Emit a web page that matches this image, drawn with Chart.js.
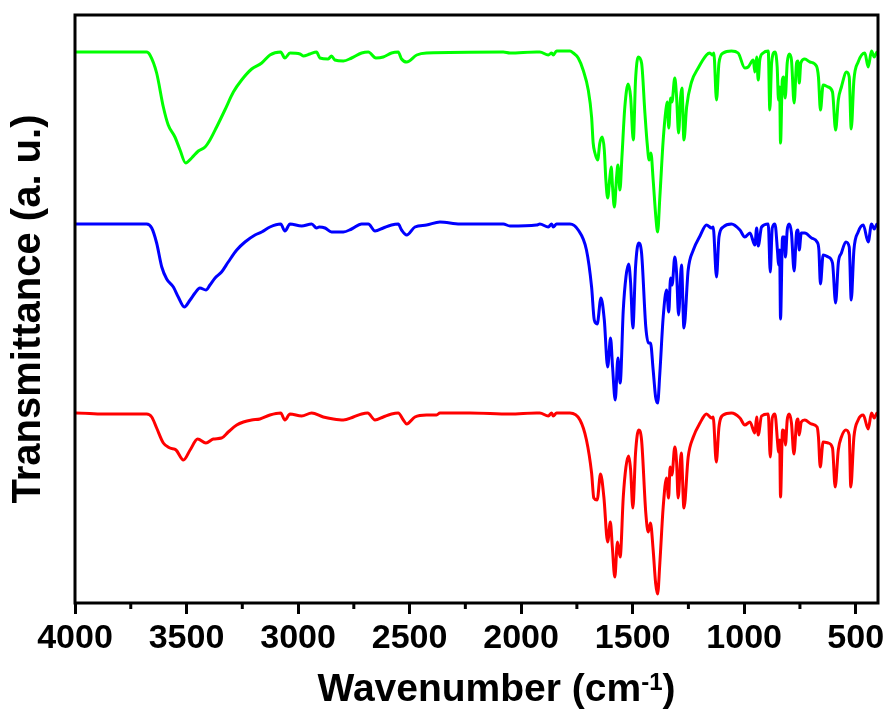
<!DOCTYPE html>
<html lang="en">
<head>
<meta charset="UTF-8">
<title>FTIR spectra</title>
<style>
  html, body { margin: 0; padding: 0; background: #fff; }
  .chart-container { position: relative; width: 890px; height: 711px; }
</style>
</head>
<body>
<div class="chart-container">
  <canvas id="ftir"></canvas>
</div>
<script src="https://cdn.jsdelivr.net/npm/chart.js"></script>
<script>
// [wavenumber (cm-1), transmittance (a.u., spectra stacked with offsets)]
const greenSpectrum = [
  [4000, 551], [3996, 551], [3679, 551], [3664, 548], [3634, 530], [3604, 496], [3582, 478], [3552, 466],
  [3529, 453], [3504, 440], [3477, 445], [3447, 452], [3417, 456], [3395, 463], [3365, 476], [3328, 493],
  [3290, 511], [3253, 523], [3208, 534], [3163, 540], [3126, 548], [3078, 551], [3059, 545], [3036, 550],
  [2991, 549], [2977, 547], [2947, 549], [2917, 551], [2902, 545], [2865, 544], [2850, 547], [2835, 543],
  [2797, 542], [2760, 545], [2715, 550], [2685, 551], [2651, 545], [2618, 546], [2581, 550], [2551, 551],
  [2536, 544], [2513, 541], [2468, 548], [2424, 550], [2080, 551], [2050, 550], [1931, 551], [1916, 551],
  [1878, 548], [1863, 550], [1856, 548], [1841, 552], [1781, 552], [1766, 550], [1744, 545], [1722, 533],
  [1699, 513], [1684, 486], [1677, 460], [1669, 450], [1657, 443], [1647, 460], [1636, 466], [1627, 453],
  [1620, 423], [1612, 405], [1602, 426], [1596, 436], [1590, 416], [1582, 396], [1572, 426], [1566, 438],
  [1557, 413], [1548, 446], [1535, 496], [1520, 519], [1509, 506], [1497, 463], [1487, 523], [1475, 546],
  [1460, 540], [1445, 490], [1435, 460], [1426, 443], [1418, 450], [1408, 423], [1396, 386], [1388, 371],
  [1378, 406], [1363, 463], [1351, 493], [1345, 501], [1338, 475], [1330, 505], [1324, 501], [1311, 525],
  [1303, 506], [1294, 470], [1285, 506], [1279, 515], [1270, 463], [1258, 496], [1236, 521], [1206, 535],
  [1169, 548], [1154, 550], [1142, 548], [1136, 550], [1124, 503], [1113, 540], [1094, 550], [1057, 552],
  [1027, 550], [997, 535], [982, 536], [959, 543], [952, 531], [944, 546], [937, 523], [930, 543],
  [915, 550], [892, 552], [885, 493], [877, 540], [862, 551], [852, 536], [846, 503], [841, 516],
  [837, 460], [829, 523], [823, 526], [816, 505], [807, 540], [798, 549], [788, 543], [776, 500],
  [765, 540], [759, 542], [753, 520], [746, 540], [728, 544], [705, 541], [676, 537], [667, 526],
  [658, 493], [646, 518], [623, 516], [604, 511], [590, 473], [578, 503], [564, 516], [541, 531],
  [529, 526], [520, 474], [508, 523], [489, 541], [459, 550], [444, 536], [429, 552], [417, 546],
  [404, 551], [400, 551]
];

const blueSpectrum = [
  [4000, 379], [3996, 379], [3679, 379], [3656, 375], [3634, 360], [3611, 336], [3589, 324], [3559, 316],
  [3537, 306], [3510, 296], [3484, 303], [3462, 310], [3440, 315], [3413, 313], [3395, 318], [3372, 325],
  [3343, 331], [3313, 341], [3275, 353], [3238, 361], [3193, 368], [3163, 371], [3126, 376], [3078, 379],
  [3059, 372], [3036, 379], [2984, 377], [2939, 379], [2917, 375], [2905, 376], [2879, 375], [2850, 371],
  [2797, 371], [2760, 374], [2715, 379], [2685, 379], [2655, 372], [2618, 375], [2581, 378], [2551, 379],
  [2536, 373], [2513, 368], [2476, 376], [2424, 378], [2364, 381], [2274, 379], [2080, 379], [2050, 377],
  [1931, 378], [1916, 379], [1878, 376], [1863, 379], [1856, 376], [1841, 379], [1781, 379], [1744, 373],
  [1707, 353], [1684, 316], [1672, 283], [1659, 279], [1642, 305], [1627, 283], [1612, 236], [1599, 265],
  [1590, 236], [1578, 203], [1566, 245], [1556, 220], [1542, 293], [1530, 326], [1518, 339], [1509, 320],
  [1499, 275], [1487, 336], [1473, 360], [1460, 350], [1441, 276], [1429, 260], [1420, 260], [1408, 233],
  [1397, 206], [1388, 200], [1378, 230], [1363, 286], [1348, 313], [1338, 291], [1330, 325], [1323, 318],
  [1311, 346], [1303, 330], [1294, 288], [1281, 338], [1270, 275], [1251, 333], [1228, 353], [1198, 367],
  [1169, 378], [1146, 375], [1139, 376], [1124, 326], [1113, 366], [1094, 376], [1057, 379], [1019, 373],
  [997, 366], [974, 370], [952, 358], [944, 375], [937, 357], [922, 376], [892, 379], [883, 331],
  [874, 375], [862, 379], [850, 350], [846, 338], [841, 353], [837, 284], [828, 366], [820, 366],
  [815, 346], [807, 373], [798, 379], [788, 370], [776, 332], [765, 371], [759, 373], [753, 353],
  [744, 370], [728, 370], [698, 365], [673, 361], [665, 353], [658, 319], [646, 348], [623, 346],
  [604, 340], [590, 300], [578, 340], [564, 350], [544, 361], [529, 356], [520, 303], [508, 353],
  [489, 371], [466, 378], [444, 361], [429, 379], [417, 374], [404, 379], [400, 379]
];

const redSpectrum = [
  [4000, 190], [3996, 190], [3873, 189], [3679, 189], [3656, 186], [3634, 175], [3604, 160], [3574, 155],
  [3547, 153], [3514, 143], [3484, 153], [3450, 164], [3413, 160], [3380, 164], [3343, 165], [3313, 171],
  [3275, 178], [3245, 181], [3208, 183], [3171, 184], [3126, 188], [3078, 190], [3059, 183], [3036, 189],
  [2984, 187], [2939, 190], [2887, 186], [2842, 184], [2797, 183], [2752, 186], [2715, 189], [2688, 190],
  [2655, 183], [2618, 186], [2581, 189], [2551, 190], [2528, 183], [2513, 179], [2476, 186], [2424, 188],
  [2379, 188], [2364, 190], [2229, 190], [2050, 189], [1931, 190], [1916, 190], [1878, 187], [1863, 190],
  [1856, 187], [1841, 190], [1781, 190], [1736, 183], [1707, 163], [1684, 130], [1674, 105], [1659, 103],
  [1644, 129], [1629, 106], [1612, 61], [1600, 81], [1591, 56], [1580, 26], [1568, 61], [1556, 46],
  [1542, 106], [1530, 136], [1518, 147], [1509, 133], [1499, 95], [1487, 150], [1473, 173], [1460, 163],
  [1441, 90], [1430, 71], [1420, 80], [1408, 53], [1397, 20], [1388, 9], [1378, 40], [1363, 96],
  [1348, 125], [1339, 105], [1332, 136], [1324, 128], [1311, 156], [1303, 141], [1296, 105], [1282, 150],
  [1270, 95], [1251, 146], [1228, 166], [1198, 180], [1169, 189], [1146, 185], [1139, 186], [1125, 141],
  [1113, 176], [1094, 188], [1057, 190], [1019, 185], [997, 178], [974, 181], [952, 170], [944, 186],
  [937, 168], [922, 187], [892, 189], [883, 146], [874, 185], [862, 189], [850, 160], [846, 151],
  [841, 163], [837, 106], [828, 173], [820, 171], [815, 158], [807, 183], [798, 189], [788, 180],
  [777, 149], [765, 181], [759, 184], [753, 168], [744, 181], [728, 183], [698, 179], [673, 176],
  [667, 166], [659, 136], [646, 161], [623, 160], [604, 155], [592, 116], [578, 153], [564, 166],
  [544, 173], [529, 168], [522, 116], [508, 166], [489, 183], [466, 188], [444, 174], [429, 190],
  [417, 185], [404, 190], [400, 190]
];

// axis ticks
const majorTicks = [4000, 3500, 3000, 2500, 2000, 1500, 1000, 500];
const minorTicks = [3750, 3250, 2750, 2250, 1750, 1250, 750];

const FONT = "'Liberation Sans', Arial, Helvetica, sans-serif";

const toPoints = arr => arr.map(p => ({ x: p[0], y: p[1] }));

const lineStyle = color => ({
  borderColor: color,
  backgroundColor: color,
  borderWidth: 3,
  pointRadius: 0,
  fill: false,
  cubicInterpolationMode: 'monotone'
});

// frame round the plot, minor ticks and the x axis title (with superscript)
const framePlugin = {
  id: 'frame',
  afterDraw(chart) {
    const { ctx, chartArea: a, scales } = chart;
    ctx.save();
    ctx.strokeStyle = '#000';
    ctx.lineWidth = 3;
    ctx.strokeRect(a.left, a.top, a.right - a.left, a.bottom - a.top);

    ctx.beginPath();
    minorTicks.forEach(v => {
      const x = scales.x.getPixelForValue(v);
      ctx.moveTo(x, a.bottom);
      ctx.lineTo(x, a.bottom + 6);
    });
    ctx.stroke();

    // "Wavenumber (cm-1)"
    const main = 'bold 39px ' + FONT;
    const sup = 'bold 24px ' + FONT;
    ctx.fillStyle = '#000';
    ctx.textBaseline = 'alphabetic';
    ctx.textAlign = 'left';
    ctx.font = main;
    const w1 = ctx.measureText('Wavenumber (cm').width;
    const w3 = ctx.measureText(')').width;
    ctx.font = sup;
    const w2 = ctx.measureText('-1').width;
    const total = w1 + w2 + w3;
    const cx = (a.left + a.right) / 2 + 20;
    const base = a.bottom + 98;
    let x = cx - total / 2;
    ctx.font = main;
    ctx.fillText('Wavenumber (cm', x, base);
    x += w1;
    ctx.font = sup;
    ctx.fillText('-1', x, base - 11);
    x += w2;
    ctx.font = main;
    ctx.fillText(')', x, base);
    ctx.restore();
  }
};

const config = {
  type: 'line',
  data: {
    datasets: [
      { label: 'green', data: toPoints(greenSpectrum), ...lineStyle('#00ff00') },
      { label: 'blue', data: toPoints(blueSpectrum), ...lineStyle('#0000ff') },
      { label: 'red', data: toPoints(redSpectrum), ...lineStyle('#ff0000') }
    ]
  },
  options: {
    responsive: true,
    maintainAspectRatio: false,
    animation: false,
    layout: { padding: { top: 15, right: 12, bottom: 0, left: 0 } },
    plugins: {
      legend: { display: false },
      tooltip: { enabled: false }
    },
    scales: {
      x: {
        type: 'linear',
        reverse: true,
        min: 400,
        max: 4000,
        afterBuildTicks: axis => {
          axis.ticks = majorTicks.map(v => ({ value: v }));
        },
        afterFit: axis => { axis.height = 108; },
        border: { display: false },
        grid: {
          drawOnChartArea: false,
          drawTicks: true,
          tickLength: 11,
          tickWidth: 3,
          tickColor: '#000'
        },
        ticks: {
          color: '#000',
          padding: 4,
          maxRotation: 0,
          autoSkip: false,
          callback: v => String(v),
          font: { family: FONT, size: 34, weight: 'bold' }
        }
      },
      y: {
        min: 0,
        max: 588,
        afterFit: axis => { axis.width = 75; },
        border: { display: false },
        grid: { display: false },
        ticks: { display: false },
        title: {
          display: true,
          text: 'Transmittance (a. u.)',
          color: '#000',
          padding: { top: 5, bottom: 0 },
          font: { family: FONT, size: 40, weight: 'bold' }
        }
      }
    }
  },
  plugins: [framePlugin]
};

const ctx = document.querySelector('#ftir');
const ftirChart = new Chart(ctx, config);
</script>
</body>
</html>
